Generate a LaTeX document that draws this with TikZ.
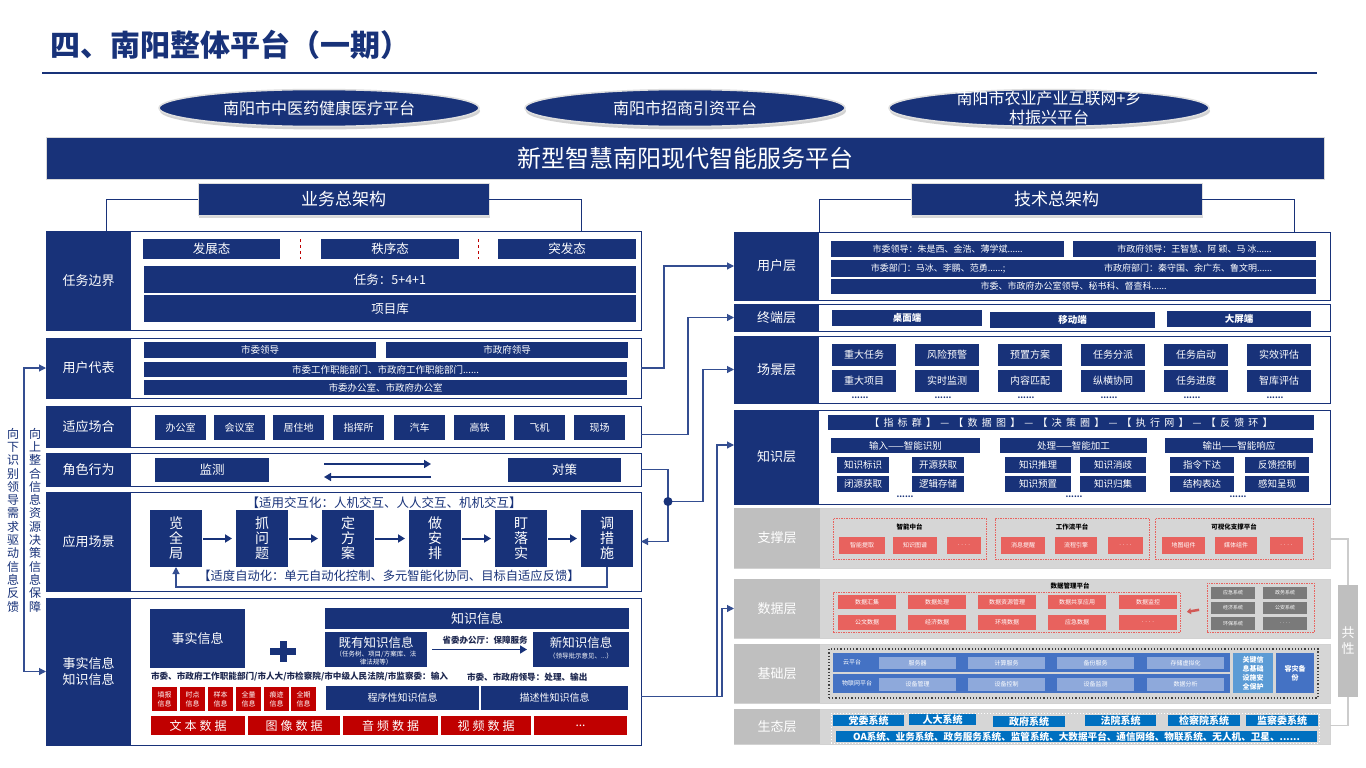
\documentclass[tikz,border=0pt]{standalone}
\usepackage{fontspec}
\setmainfont{Noto Sans CJK SC}
\usetikzlibrary{arrows.meta,shadows,calc,shapes.geometric}
\definecolor{navy}{RGB}{24,50,121}
\definecolor{lnk}{RGB}{52,78,145}
\definecolor{dred}{RGB}{192,0,0}
\definecolor{sred}{RGB}{232,98,94}
\definecolor{dgr}{RGB}{122,122,122}
\definecolor{bblue}{RGB}{68,114,196}
\definecolor{lblue}{RGB}{142,169,219}
\definecolor{kblue}{RGB}{91,155,213}
\definecolor{eblue}{RGB}{0,112,192}
\definecolor{txt}{RGB}{30,40,80}
\newcommand{\fs}[1]{\fontsize{#1pt}{\dimexpr #1pt*6/5\relax}\selectfont}
\newcommand{\bx}[7]{\node[#6,minimum width={(#4)-(#2)},minimum height={(#5)-(#3)}] (#1) at ({((#2)+(#4))/2},{((#3)+(#5))/2}) {#7};}
\newcommand{\hs}{\hspace{4.2pt}}
\newcommand{\ws}{\hspace{3pt}}
\tikzset{
 base/.style={inner sep=0pt,outer sep=0pt,align=center},
 nv/.style={base,fill=navy,text=white},
 pnl/.style={base,draw=navy,line width=0.9pt,fill=white},
 lbl/.style={base,fill=navy,text=white,font=\fs{13}},
 gpnl/.style={base,draw=gray!35,line width=0.9pt,fill=gray!32},
 glab/.style={base,fill=gray!50,text=white,font=\fs{13}},
 rbx/.style={base,fill=dred,text=white},
 sbx/.style={base,fill=sred,text=white,font=\fs{6}},
 gbx/.style={base,fill=dgr,text=white,font=\fs{5}},
 rdash/.style={base,draw=sred,dash pattern=on 1.5pt off 1pt,line width=1pt},
 conn/.style={draw=lnk,line width=1.1pt},
 arrw/.style={-{Triangle[length=7pt,width=7pt]}},
 flow/.style={draw=navy,line width=2pt,-{Triangle[length=7pt,width=8pt]}},
 brk/.style={draw=gray!40,line width=1.6pt},
 hdr/.style={nv,draw=gray!25,line width=1pt,font=\fs{17},drop shadow={opacity=0.3,shadow xshift=1pt,shadow yshift=-3pt}},
 ell/.style={ellipse,fill=navy,draw=gray!25,line width=1.5pt,inner sep=0pt,drop shadow={opacity=0.35,shadow xshift=1pt,shadow yshift=-3pt}},
 etext/.style={base,text=white,font=\fs{16}},
 dotsty/.style={base,font=\fs{8}\bfseries,text=navy},
 sep/.style={draw=red!75!black,dashed,line width=0.8pt},
}
\begin{document}
\begin{tikzpicture}[x=1pt,y=-1pt]
\useasboundingbox (0,0) rectangle (1366,768);
\fill[white] (0,0) rectangle (1366,768);

% title
\node[anchor=west,font=\fs{30}\bfseries,text=navy,inner sep=0pt] (title) at (50,45) {四、南阳整体平台（一期）};
\draw[navy,line width=1.2pt] (42,73) -- (1317,73);

% ellipses
\node[ell,minimum width=320,minimum height=37] (e1) at (319,108) {};
\node[etext] (e1t) at (e1.center) {南阳市中医药健康医疗平台};
\node[ell,minimum width=320,minimum height=37] (e2) at (685,108) {};
\node[etext] (e2t) at (e2.center) {南阳市招商引资平台};
\node[ell,minimum width=320,minimum height=37] (e3) at (1049,108) {};
\node[etext] (e3t) at (e3.center) {南阳市农业产业互联网+乡\\村振兴平台};

% banner
\bx{banner}{46}{137}{1324}{179}{nv,draw=gray!30,line width=1pt,font=\fs{24}}{新型智慧南阳现代智能服务平台}

% ===== left side =====
\bx{hL}{198}{183}{489}{215}{hdr}{业务总架构}

\bx{pA}{46}{231}{641}{330}{pnl}{}
\bx{lA}{46}{231}{131}{330}{lbl}{任务边界}
\bx{a1}{143}{239}{280}{259}{nv,font=\fs{12.5}}{发展态}
\bx{a2}{321}{239}{459}{259}{nv,font=\fs{12.5}}{秩序态}
\bx{a3}{498}{239}{636}{259}{nv,font=\fs{12.5}}{突发态}
\draw[sep] ($(a1.north east)!.5!(a2.north west)$) -- ($(a1.south east)!.5!(a2.south west)$);
\draw[sep] ($(a2.north east)!.5!(a3.north west)$) -- ($(a2.south east)!.5!(a3.south west)$);
\bx{a4}{144}{266}{636}{293}{nv,font=\fs{12.5}}{任务：5+4+1}
\bx{a5}{144}{295}{636}{322}{nv,font=\fs{12.5}}{项目库}

\draw[conn,draw=navy,line width=0.9pt] (hL.west) -| ($(pA.north west)+(60,0)$);
\draw[conn,draw=navy,line width=0.9pt] (hL.east) -| ($(pA.north west)+(535,0)$);

\bx{pB}{46}{338}{641}{398}{pnl}{}
\bx{lB}{46}{338}{131}{398}{lbl}{用户代表}
\bx{b1}{144}{342}{376}{358}{nv,font=\fs{9.5}}{市委领导}
\bx{b2}{386}{342}{628}{358}{nv,font=\fs{9.5}}{市政府领导}
\bx{b3}{144}{362}{627}{377}{nv,font=\fs{9.5}}{市委工作职能部门、市政府工作职能部门......}
\bx{b4}{144}{380}{627}{395}{nv,font=\fs{9.5}}{市委办公室、市政府办公室}

\bx{pC}{46}{406}{641}{447}{pnl}{}
\bx{lC}{46}{406}{131}{447}{lbl}{适应场合}
\foreach \x/\t [count=\i] in {155/办公室,214/会议室,273/居住地,333/指挥所,394/汽车,454/高铁,514/飞机,574/现场}{
  \bx{c\i}{\x}{415}{\x+51}{440}{nv,font=\fs{10}}{\t}
}

\bx{pD}{46}{453}{641}{486}{pnl}{}
\bx{lD}{46}{453}{131}{486}{lbl}{角色行为}
\bx{d1}{155}{458}{269}{482}{nv,font=\fs{12.5}}{监测}
\bx{d2}{508}{458}{621}{482}{nv,font=\fs{12.5}}{对策}
\coordinate (dA) at (324,464);
\coordinate (dB) at (431,464);
\coordinate (dC) at (431,477);
\coordinate (dD) at (324,477);
\draw[flow,line width=1.6pt] (dA) -- (dB);
\draw[flow,line width=1.6pt] (dC) -- (dD);

\bx{pE}{46}{492}{641}{591}{pnl}{}
\bx{lE}{46}{492}{131}{591}{lbl}{应用场景}
\node[base,font=\fs{12.5},text=navy] (eT) at (384,503) {【适用交互化：人机交互、人人交互、机机交互】};
\bx{g1}{150}{510}{202}{567}{nv,font=\fontsize{14pt}{15pt}\selectfont}{览\\全\\局}
\bx{g2}{236}{510}{288}{567}{nv,font=\fontsize{14pt}{15pt}\selectfont}{抓\\问\\题}
\bx{g3}{322}{510}{374}{567}{nv,font=\fontsize{14pt}{15pt}\selectfont}{定\\方\\案}
\bx{g4}{409}{510}{461}{567}{nv,font=\fontsize{14pt}{15pt}\selectfont}{做\\安\\排}
\bx{g5}{495}{510}{547}{567}{nv,font=\fontsize{14pt}{15pt}\selectfont}{盯\\落\\实}
\bx{g6}{581}{510}{633}{567}{nv,font=\fontsize{14pt}{15pt}\selectfont}{调\\措\\施}
\foreach \a/\b in {g1/g2,g2/g3,g3/g4,g4/g5,g5/g6}{
  \draw[flow,shorten >=4pt,shorten <=1pt] (\a.east) -- (\b.west);
}
\node[base,font=\fs{12.3},text=navy] (eB) at (389,576) {【适度自动化：单元自动化控制、多元智能化协同、目标自适应反馈】};
\draw[conn,arrw] (g6.south) -- ++(0,20) -| (g1.south);

\bx{pF}{46}{598}{641}{745}{pnl}{}
\bx{lF}{46}{598}{131}{745}{lbl,font=\fontsize{13pt}{16pt}\selectfont}{事实信息\\知识信息}
\bx{f1}{150}{609}{245}{668}{nv,font=\fs{13}}{事实信息}
\fill[navy] (270,648) rectangle (296,655);
\fill[navy] (279.5,641) rectangle (286.5,662);
\bx{f2}{325}{608}{629}{629}{nv,font=\fs{13}}{知识信息}
\bx{f3}{325}{632}{427}{667}{nv}{}
\node[base,text=white,font=\fs{12.5}] (f3t) at (376,643) {既有知识信息};
\node[base,text=white,font=\fontsize{6.5pt}{8pt}\selectfont] (f3s) at (376,658) {（任务树、项目/方案库、法\\律法规等）};
\bx{f4}{533}{632}{629}{667}{nv}{}
\node[base,text=white,font=\fs{12.5}] (f4t) at (581,643) {新知识信息};
\node[base,text=white,font=\fontsize{6.5pt}{8pt}\selectfont] (f4s) at (581,656) {（领导批示意见、...）};
\draw[flow,line width=1.5pt] ($(f3.east)+(5,0)$) -- ($(f4.west)+(-6,0)$);
\node[base,font=\fs{8.5}\bfseries,text=txt] (f5) at (485,640) {省委办公厅：保障服务};
\node[base,font=\fs{8.6}\bfseries,text=txt,anchor=west] (f6) at (151,677) {市委、市政府工作职能部门/市人大/市检察院/市中级人民法院/市监察委：输入};
\node[base,font=\fs{8.6}\bfseries,text=txt,anchor=west] (f7) at (467,677) {市委、市政府领导：处理、输出};
\foreach \x/\t [count=\i] in {152/填报,180/时点,208/样本,236/全量,264/痕迹,291/全期}{
  \bx{r\i}{\x}{687}{\x+25}{711}{rbx,font=\fontsize{7pt}{9pt}\selectfont}{\t\\信息}
}
\bx{f8}{326}{686}{479}{710}{nv,font=\fs{10}}{程序性知识信息}
\bx{f9}{481}{686}{628}{710}{nv,font=\fs{10}}{描述性知识信息}
\bx{m1}{151}{716}{245}{735}{rbx,font=\fs{12}}{文\ws 本\ws 数\ws 据}
\bx{m2}{248}{716}{340}{735}{rbx,font=\fs{12}}{图\ws 像\ws 数\ws 据}
\bx{m3}{343}{716}{438}{735}{rbx,font=\fs{12}}{音\ws 频\ws 数\ws 据}
\bx{m4}{441}{716}{531}{735}{rbx,font=\fs{12}}{视\ws 频\ws 数\ws 据}
\bx{m5}{534}{716}{627}{735}{rbx,font=\fs{12}}{...}

% left vertical texts and connector
\node[base,font=\fontsize{12pt}{13.3pt}\selectfont,text=navy] (vt1) at (13,520) {向\\下\\识\\别\\领\\导\\需\\求\\驱\\动\\信\\息\\反\\馈};
\node[base,font=\fontsize{12pt}{13.3pt}\selectfont,text=navy] (vt2) at (35,520) {向\\上\\整\\合\\信\\息\\资\\源\\决\\策\\信\\息\\保\\障};
\draw[conn,{Triangle[length=7pt,width=7pt]}-{Triangle[length=7pt,width=7pt]}] (lB.west) -- ++(-22,0) |- (lF.west);

% ===== right side =====
\bx{hR}{911}{183}{1202}{215}{hdr}{技术总架构}

\bx{pU}{734}{232}{1330}{300}{pnl}{}
\bx{lU}{734}{232}{819}{300}{lbl}{用户层}
\draw[conn,draw=navy,line width=0.9pt] (hR.west) -| ($(pU.north west)+(85,0)$);
\draw[conn,draw=navy,line width=0.9pt] (hR.east) -| ($(pU.north west)+(560,0)$);
\bx{u1}{831}{241}{1064}{257}{nv,font=\fs{9}}{市委领导：朱是西、金浩、薄学斌......}
\bx{u2}{1073}{241}{1316}{257}{nv,font=\fs{9}}{市政府领导：王智慧、阿\ 颖、马\ 冰......}
\bx{u3}{831}{260}{1316}{277}{nv}{}
\node[base,text=white,font=\fs{9}] (u3a) at (938,268.5) {市委部门：马冰、李鹏、范勇......;};
\node[base,text=white,font=\fs{9}] (u3b) at (1188,268.5) {市政府部门：秦守国、余广东、鲁文明......};
\bx{u4}{831}{279}{1316}{294}{nv,font=\fs{9}}{市委、市政府办公室领导、秘书科、督查科......}

\bx{pT}{734}{304}{1330}{331}{pnl}{}
\bx{lT}{734}{304}{819}{331}{lbl}{终端层}
\bx{t1}{832}{310}{982}{326}{nv,font=\fs{9.5}\bfseries}{桌面端}
\bx{t2}{990}{312}{1155}{328}{nv,font=\fs{9.5}\bfseries}{移动端}
\bx{t3}{1167}{311}{1311}{327}{nv,font=\fs{9.5}\bfseries}{大屏端}

\bx{pS}{734}{336}{1330}{403}{pnl}{}
\bx{lS}{734}{336}{819}{403}{lbl}{场景层}
\foreach \x/\ta/\tb [count=\i] in {832/重大任务/重大项目,915/风险预警/实时监测,998/预置方案/内容匹配,1081/任务分派/纵横协同,1164/任务启动/任务进度,1247/实效评估/智库评估}{
  \bx{sa\i}{\x}{344}{\x+64}{366}{nv,font=\fs{10}}{\ta}
  \bx{sb\i}{\x}{370}{\x+64}{392}{nv,font=\fs{10}}{\tb}
  \node[dotsty] (sd\i) at (\x+28,398) {......};
}

\bx{pK}{734}{410}{1330}{504}{pnl}{}
\bx{lK}{734}{410}{819}{504}{lbl}{知识层}
\bx{k0}{828}{415}{1314}{430}{nv,font=\fs{10}}{【\hs 指\hs 标\hs 群\hs 】\hs —\hs 【\hs 数\hs 据\hs 图\hs 】\hs —\hs 【\hs 决\hs 策\hs 圈\hs 】\hs —\hs 【\hs 执\hs 行\hs 网\hs 】\hs —\hs 【\hs 反\hs 馈\hs 环\hs 】}
\bx{kg1}{831}{438}{980}{453}{nv,font=\fs{9.5}}{输入——智能识别}
\bx{kg2}{1000}{438}{1147}{453}{nv,font=\fs{9.5}}{处理——智能加工}
\bx{kg3}{1165}{438}{1313}{453}{nv,font=\fs{9.5}}{输出——智能响应}
\bx{k1}{837}{457}{889}{473}{nv,font=\fs{9.5}}{知识标识}
\bx{k2}{912}{457}{964}{473}{nv,font=\fs{9.5}}{开源获取}
\bx{k3}{837}{476}{889}{492}{nv,font=\fs{9.5}}{闭源获取}
\bx{k4}{912}{476}{964}{492}{nv,font=\fs{9.5}}{逻辑存储}
\bx{k5}{1005}{457}{1071}{473}{nv,font=\fs{9.5}}{知识推理}
\bx{k6}{1080}{457}{1146}{473}{nv,font=\fs{9.5}}{知识消歧}
\bx{k7}{1005}{476}{1071}{492}{nv,font=\fs{9.5}}{知识预置}
\bx{k8}{1080}{476}{1146}{492}{nv,font=\fs{9.5}}{知识归集}
\bx{k9}{1170}{457}{1234}{473}{nv,font=\fs{9.5}}{指令下达}
\bx{k10}{1245}{457}{1309}{473}{nv,font=\fs{9.5}}{反馈控制}
\bx{k11}{1170}{476}{1234}{492}{nv,font=\fs{9.5}}{结构表达}
\bx{k12}{1245}{476}{1309}{492}{nv,font=\fs{9.5}}{感知呈现}
\node[dotsty] (kd1) at (905,497) {......};
\node[dotsty] (kd2) at (1074,497) {......};
\node[dotsty] (kd3) at (1238,497) {......};

% support layer
\bx{pP}{734}{508}{1330}{568}{gpnl}{}
\bx{lP}{734}{508}{820}{568}{glab}{支撑层}
\bx{sp1}{833}{518}{986}{559}{rdash}{}
\bx{sp2}{995}{518}{1149}{559}{rdash}{}
\bx{sp3}{1155}{518}{1313}{559}{rdash}{}
\node[base,font=\fs{6.5}\bfseries] (sp1t) at (909.5,527) {智能中台};
\node[base,font=\fs{6.5}\bfseries] (sp2t) at (1072,527) {工作流平台};
\node[base,font=\fs{6.5}\bfseries] (sp3t) at (1234,527) {可视化支撑平台};
\bx{s1}{839}{537}{885}{554}{sbx}{智能提取}
\bx{s2}{893}{537}{937}{554}{sbx}{知识图谱}
\bx{s3}{947}{537}{981}{554}{sbx}{. . . .}
\bx{s4}{1001}{537}{1045}{554}{sbx}{消息提醒}
\bx{s5}{1055}{537}{1097}{554}{sbx}{流程引擎}
\bx{s6}{1108}{537}{1143}{554}{sbx}{. . . .}
\bx{s7}{1162}{537}{1205}{554}{sbx}{地图组件}
\bx{s8}{1215}{537}{1257}{554}{sbx}{媒体组件}
\bx{s9}{1270}{537}{1303}{554}{sbx}{. . . .}

% data layer
\bx{pD2}{734}{579}{1330}{638}{gpnl}{}
\bx{lD2}{734}{579}{820}{638}{glab}{数据层}
\node[base,font=\fs{6.5}\bfseries] (dmt) at (1070,586) {数据管理平台};
\bx{dm}{833}{592}{1180}{632}{rdash}{}
\foreach \x/\ta/\tb [count=\i] in {838/数据汇集/公文数据,908/数据处理/经济数据,978/数据资源管理/环境数据,1048/数据共享应用/应急数据,1119/数据监控/. . . .}{
  \bx{da\i}{\x}{595}{\x+58}{609}{sbx}{\ta}
  \bx{db\i}{\x}{615}{\x+58}{630}{sbx}{\tb}
}
\bx{sys}{1207}{583}{1314}{632}{rdash}{}
\bx{y1}{1211}{587}{1255}{599}{gbx}{应急系统}
\bx{y2}{1263}{587}{1307}{599}{gbx}{政务系统}
\bx{y3}{1211}{602}{1255}{614}{gbx}{经济系统}
\bx{y4}{1263}{602}{1307}{614}{gbx}{公安系统}
\bx{y5}{1211}{617}{1255}{630}{gbx}{环保系统}
\bx{y6}{1263}{617}{1307}{630}{gbx}{. . . .}
\draw[draw=sred!90!black,line width=2.5pt,-{Triangle[length=4pt,width=6pt]},shorten <=8pt,shorten >=7pt] ($(sys.west)+(0,1)$) -- ($(dm.east)+(0,1)$);

% base layer
\bx{pB2}{734}{644}{1330}{703}{gpnl}{}
\bx{lB2}{734}{644}{820}{703}{glab}{基础层}
\bx{bo}{829}{649}{1318}{698}{base,draw=black!75,dotted,line width=1.2pt}{}
\bx{br1}{833}{653}{1230}{672}{base,fill=bblue}{}
\bx{br2}{833}{674}{1230}{693}{base,fill=bblue}{}
\node[base,text=white,font=\fs{6}] (brt1) at (852,662.5) {云平台};
\node[base,text=white,font=\fs{6}] (brt2) at (857,683.5) {物联网平台};
\foreach \x/\ta/\tb [count=\i] in {879/服务器/设备管理,968/计算服务/设备控制,1057/备份服务/设备监测,1147/存储虚拟化/数据分析}{
  \bx{bi\i}{\x}{657}{\x+77}{669}{base,fill=lblue,text=white,font=\fs{6}}{\ta}
  \bx{bj\i}{\x}{678}{\x+77}{691}{base,fill=lblue,text=white,font=\fs{6}}{\tb}
}
\bx{bk}{1233}{653}{1273}{693}{base,fill=kblue,text=white,font=\fontsize{7pt}{9pt}\selectfont\bfseries}{关键信\\息基础\\设施安\\全保护}
\bx{bz}{1276}{653}{1314}{693}{base,fill=bblue,text=white,font=\fontsize{7pt}{9pt}\selectfont\bfseries}{容灾备\\份}

% eco layer
\bx{pE2}{734}{709}{1330}{744}{gpnl}{}
\bx{lE2}{734}{709}{820}{744}{glab}{生态层}
\bx{eo}{831}{713}{1319}{743}{base,draw=white,dotted,line width=1pt}{}
\bx{q1}{833}{715}{904}{726}{base,fill=eblue,text=white,font=\fs{10}\bfseries}{党委系统}
\bx{q2}{909}{714}{976}{725}{base,fill=eblue,text=white,font=\fs{10}\bfseries}{人大系统}
\bx{q3}{993}{716}{1065}{727}{base,fill=eblue,text=white,font=\fs{10}\bfseries}{政府系统}
\bx{q4}{1085}{715}{1156}{726}{base,fill=eblue,text=white,font=\fs{10}\bfseries}{法院系统}
\bx{q5}{1168}{715}{1240}{726}{base,fill=eblue,text=white,font=\fs{10}\bfseries}{检察院系统}
\bx{q6}{1246}{715}{1318}{726}{base,fill=eblue,text=white,font=\fs{10}\bfseries}{监察委系统}
\bx{q7}{836}{731}{1317}{742}{base,fill=eblue,text=white,font=\fs{9.6}\bfseries}{OA系统、业务系统、政务服务系统、监管系统、大数据平台、通信网络、物联系统、无人机、卫星、......}

% common column
\bx{gx}{1338}{585}{1358}{697}{base,fill=gray!50,text=white,font=\fontsize{13pt}{16pt}\selectfont}{共\\性}
\draw[brk] ($(pP.east)+(0,1)$) -| (gx.north);
\draw[brk] (gx.south) |- ($(pE2.east)+(0,-1)$);

% connectors left -> right
\draw[conn,arrw] (pB.east) -- ++(23,0) |- (lU.west);
\draw[conn,arrw] ($(pC.east)+(0,8)$) -- ++(47,0) |- (lT.west);
\coordinate (jn) at ($(pD.east)+(27,32)$);
\draw[conn] (pD.east) -| (jn);
\draw[conn,arrw] (jn) |- (pE.east);
\draw[conn,arrw] (jn) -- ++(35,0) |- (lS.west);
\fill[navy] (jn) circle (4.5);
\coordinate (fo) at ($(pF.east)+(0,25)$);
\draw[conn,arrw] (fo) -| ($(lK.west)+(-17,-12)$) -- ($(lK.west)+(0,-12)$);
\draw[conn,arrw] (fo) -- ++(81,0) |- (lD2.west);
\end{tikzpicture}
\end{document}
